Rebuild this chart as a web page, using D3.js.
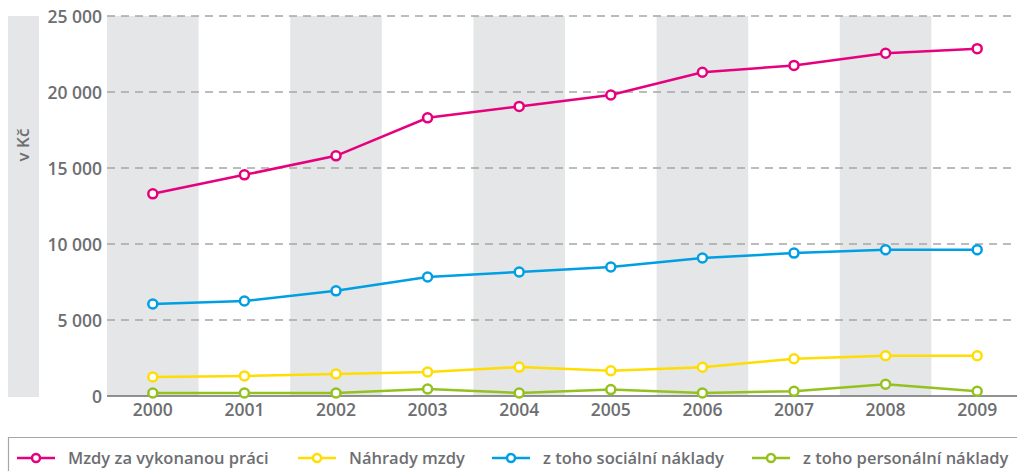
<!DOCTYPE html>
<meta charset="utf-8">
<head>
<style>
  body { margin: 0; background: #fff; }
  svg { display: block; }
  .tick text { font-family: 'Open Sans', sans-serif; font-weight: 600; font-size: 17.5px; fill: #6d6e71; }
  .lgd { font-family: 'Open Sans', sans-serif; font-weight: 600; font-size: 16.5px; fill: #6d6e71; }
</style>
</head>
<body>
<svg id="chart" width="1017" height="471"></svg>
<script src="https://d3js.org/d3.v7.min.js"></script>
<script>

  var years = ["2000","2001","2002","2003","2004","2005","2006","2007","2008","2009"];
  var mzdy     = [13300, 14550, 15800, 18300, 19050, 19800, 21300, 21750, 22550, 22850];
  var nahrady  = [1250, 1320, 1450, 1580, 1900, 1660, 1890, 2450, 2650, 2650];
  var socialni = [6050, 6250, 6920, 7830, 8160, 8490, 9080, 9400, 9620, 9620];
  var personal = [200, 200, 200, 460, 200, 420, 200, 310, 770, 310];
  var yTicks = [0, 5000, 10000, 15000, 20000, 25000];
  var seriesNames = ["Mzdy za vykonanou práci", "Náhrady mzdy", "z toho sociální náklady", "z toho personální náklady"];
  var colors = ["#e6007e", "#ffdd00", "#009fe3", "#95c11f"];

  var series = [mzdy, nahrady, socialni, personal];

  var svg = d3.select("#chart");

  var x = d3.scaleBand().domain(years).range([107, 1023]);
  var y = d3.scaleLinear().domain([0, 25000]).range([396, 16]);

  // y-axis title band
  svg.append("rect").attr("x", 8).attr("y", 16).attr("width", 31).attr("height", 381).attr("fill", "#e5e6e8");
  svg.append("text")
     .attr("transform", "translate(29,145) rotate(-90)")
     .attr("text-anchor", "middle")
     .attr("class", "lgd")
     .style("font-size", "17px")
     .text("v Kč");

  // alternating year bands
  svg.selectAll(".band").data(years.filter(function (d, i) { return i % 2 == 0; }))
     .enter().append("rect")
     .attr("x", function (d) { return x(d); })
     .attr("y", y(25000))
     .attr("width", x.bandwidth())
     .attr("height", y(0) - y(25000))
     .attr("fill", "#e5e6e8");

  // grid
  svg.selectAll(".grid").data(yTicks.filter(function (d) { return d > 0; }))
     .enter().append("line")
     .attr("x1", 107).attr("x2", 1017)
     .attr("y1", function (d) { return y(d); }).attr("y2", function (d) { return y(d); })
     .attr("stroke", "#a7a7a7").attr("stroke-width", 1.5)
     .attr("stroke-dasharray", "8,6");

  var fmt = function (d) { return d3.format(",")(d).replace(/,/g, " "); };

  var yAxis = svg.append("g").attr("transform", "translate(102,0)")
     .call(d3.axisLeft(y).tickValues(yTicks).tickSize(0).tickPadding(0).tickFormat(fmt));
  yAxis.select(".domain").remove();
  yAxis.selectAll(".tick text").attr("dy", "0.35em");

  var xAxis = svg.append("g").attr("transform", "translate(0,396)")
     .call(d3.axisBottom(x).tickSize(0).tickPadding(8));
  xAxis.select(".domain").remove();

  svg.append("line").attr("x1", 107).attr("x2", 1017).attr("y1", y(0)).attr("y2", y(0))
     .attr("stroke", "#6d6e71").attr("stroke-width", 1.5);

  var line = d3.line()
     .x(function (d, i) { return x(years[i]) + x.bandwidth() / 2; })
     .y(function (d) { return y(d); });

  // draw bottom series first so pink sits on top
  for (var s = series.length - 1; s >= 0; s--) {
    var g = svg.append("g");
    g.append("path").datum(series[s])
     .attr("d", line).attr("fill", "none")
     .attr("stroke", colors[s]).attr("stroke-width", 2.5);
    g.selectAll("circle").data(series[s]).enter().append("circle")
     .attr("cx", function (d, i) { return x(years[i]) + x.bandwidth() / 2; })
     .attr("cy", function (d) { return y(d); })
     .attr("r", 4.5)
     .attr("fill", "#fff")
     .attr("stroke", colors[s]).attr("stroke-width", 2.5);
  }

  // legend
  svg.append("path").attr("d", "M8.5,471 V437.5 H1017")
     .attr("fill", "none").attr("stroke", "#a7a7a7").attr("stroke-width", 1.2);

  var lgdX = [15, 296, 490, 750];
  for (var k = 0; k < seriesNames.length; k++) {
    var lg = svg.append("g").attr("transform", "translate(" + lgdX[k] + ",458)");
    lg.append("line").attr("x1", 2).attr("x2", 40).attr("y1", 0).attr("y2", 0)
      .attr("stroke", colors[k]).attr("stroke-width", 2.5);
    lg.append("circle").attr("cx", 21).attr("cy", 0).attr("r", 4)
      .attr("fill", "#fff").attr("stroke", colors[k]).attr("stroke-width", 2.5);
    lg.append("text").attr("class", "lgd").attr("x", 53).attr("y", 0).attr("dy", "0.35em")
      .text(seriesNames[k]);
  }

</script>
</body>
